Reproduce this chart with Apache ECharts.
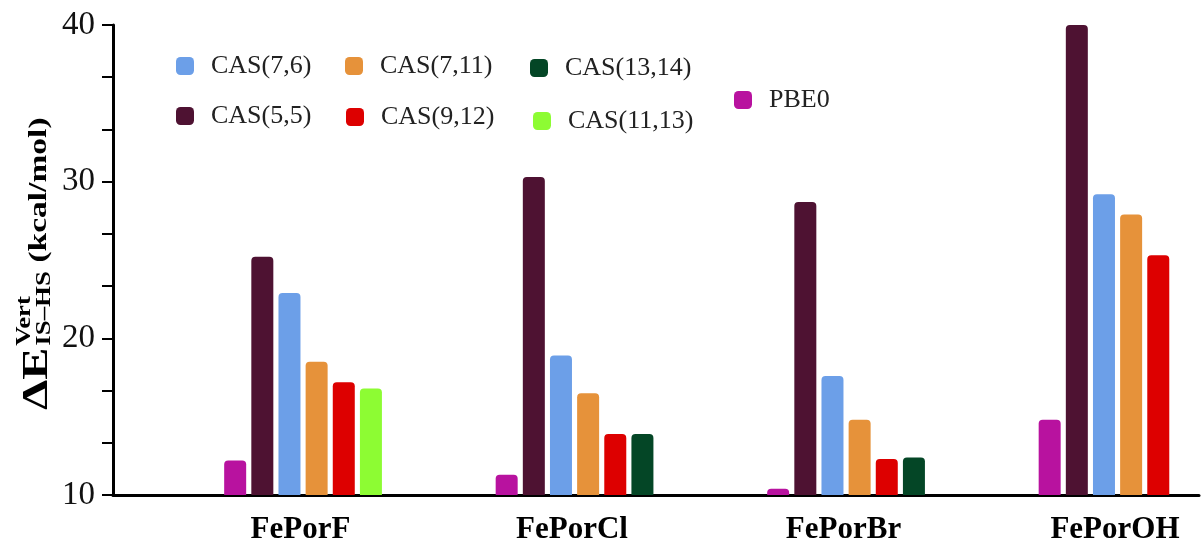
<!DOCTYPE html>
<html lang="en">
  <head>
    <meta charset="UTF-8" />
    <script src="https://cdn.jsdelivr.net/npm/echarts@6/dist/echarts.min.js"></script>
    <title>Vertical IS-HS gap</title>
    <style>
      html, body { margin: 0; padding: 0; background: #fff; }
      #app { width: 1202px; height: 546px; }
    </style>
  </head>
  <body>
    <div id="app"></div>
    <script>
      // 分子体系
      const groups = ["FePorF", "FePorCl", "FePorBr", "FePorOH"];
      // 方法 (图例名)
      const methods = ["PBE0", "CAS(5,5)", "CAS(7,6)", "CAS(7,11)", "CAS(9,12)", "CAS(11,13)", "CAS(13,14)"];
      // kcal/mol, one value per group (null = not computed)
      const pbe0 = [12.2, 11.3, 10.4, 14.8];
      const cas55 = [25.2, 30.3, 28.7, 40.1];
      const cas76 = [22.9, 18.9, 17.6, 29.2];
      const cas711 = [18.5, 16.5, 14.8, 27.9];
      const cas912 = [17.2, 13.9, 12.3, 25.3];
      const cas1113 = [16.8, null, null, null];
      const cas1314 = [null, 13.9, 12.4, null];
      const values = [pbe0, cas55, cas76, cas711, cas912, cas1113, cas1314];
      const yTicks = [10, 20, 30, 40];

      const colors = ["#b8129f", "#4e1232", "#6c9fe8", "#e6923a", "#dd0000", "#8dfc33", "#044626"];

      // slot layout: every group = 4 empty slots + 6 bar slots
      const pad = 4;
      const perGroup = 10;
      const slotOf = [0, 1, 2, 3, 4, 5, 5]; // (11,13) and (13,14) share the last slot
      const labelSlot = 6;

      const slots = [];
      groups.forEach((g, gi) => {
        for (let s = 0; s < perGroup; s++) slots.push(gi + ":" + s);
      });

      const series = methods.map((name, mi) => {
        const data = slots.map(() => null);
        values[mi].forEach((v, gi) => {
          if (v != null) data[gi * perGroup + pad + slotOf[mi]] = v;
        });
        return {
          name,
          type: "bar",
          data,
          barWidth: 22,
          barGap: "-100%",
          itemStyle: { color: colors[mi], borderRadius: [4, 4, 0, 0] },
        };
      });

      const legendFont = { fontFamily: "Liberation Serif", fontSize: 26, color: "#222", lineHeight: 18, padding: [0, 0, 0, 12] };
      // [name, left, top]
      const legendPos = [
        ["CAS(7,6)", 176, 53],
        ["CAS(7,11)", 345, 53],
        ["CAS(13,14)", 530, 55],
        ["CAS(5,5)", 176, 103],
        ["CAS(9,12)", 346, 104],
        ["CAS(11,13)", 533, 108],
        ["PBE0", 734, 87],
      ];
      const legends = legendPos.map(([name, left, top]) => ({
        data: [name],
        left,
        top,
        padding: 0,
        icon: "roundRect",
        itemWidth: 18,
        itemHeight: 18,
        textStyle: legendFont,
      }));

      const titleFont = '"Liberation Serif"';
      const echart = echarts.init(document.getElementById("app"));
      echart.setOption({
        animation: false,
        color: colors,
        legend: legends,
        grid: { left: 113, right: 3, top: 25, bottom: 51 },
        xAxis: {
          type: "category",
          data: slots,
          axisLine: { lineStyle: { color: "#000", width: 3 } },
          axisTick: { show: false },
          axisLabel: {
            interval: 0,
            margin: 19,
            padding: [0, 0, 0, 22],
            fontFamily: "Liberation Serif",
            fontWeight: "bold",
            fontSize: 31,
            color: "#000",
            formatter: (v) => {
              const [gi, s] = v.split(":").map(Number);
              return s === labelSlot ? groups[gi] : "";
            },
          },
        },
        yAxis: {
          type: "value",
          min: yTicks[0],
          max: yTicks[yTicks.length - 1],
          interval: 10,
          axisLine: { show: true, lineStyle: { color: "#000", width: 3 } },
          axisTick: { show: true, length: 11, lineStyle: { color: "#000", width: 2 } },
          minorTick: { show: true, splitNumber: 3, length: 11, lineStyle: { color: "#000", width: 2 } },
          splitLine: { show: false },
          axisLabel: { margin: 18, fontFamily: "Liberation Serif", fontSize: 33, color: "#111" },
        },
        // y axis title: ΔE^Vert_IS–HS (kcal/mol), drawn rotated and stretched
        graphic: [
          {
            type: "group",
            x: 50,
            y: 410,
            rotation: Math.PI / 2,
            scaleX: 1.34,
            children: [
              { type: "text", x: 0, y: -12, style: { text: "ΔE", font: "bold 36px " + titleFont, fill: "#000", verticalAlign: "middle", textVerticalAlign: "middle" } },
              { type: "text", x: 48, y: -25, style: { text: "Vert", font: "bold 20px " + titleFont, fill: "#000", verticalAlign: "middle", textVerticalAlign: "middle" } },
              { type: "text", x: 48, y: -5, style: { text: "IS–HS", font: "bold 20px " + titleFont, fill: "#000", verticalAlign: "middle", textVerticalAlign: "middle" } },
              { type: "text", x: 110, y: -10, style: { text: "(kcal/mol)", font: "bold 25px " + titleFont, fill: "#000", verticalAlign: "middle", textVerticalAlign: "middle" } },
            ],
          },
        ],
        series,
      });
    </script>
  </body>
</html>
